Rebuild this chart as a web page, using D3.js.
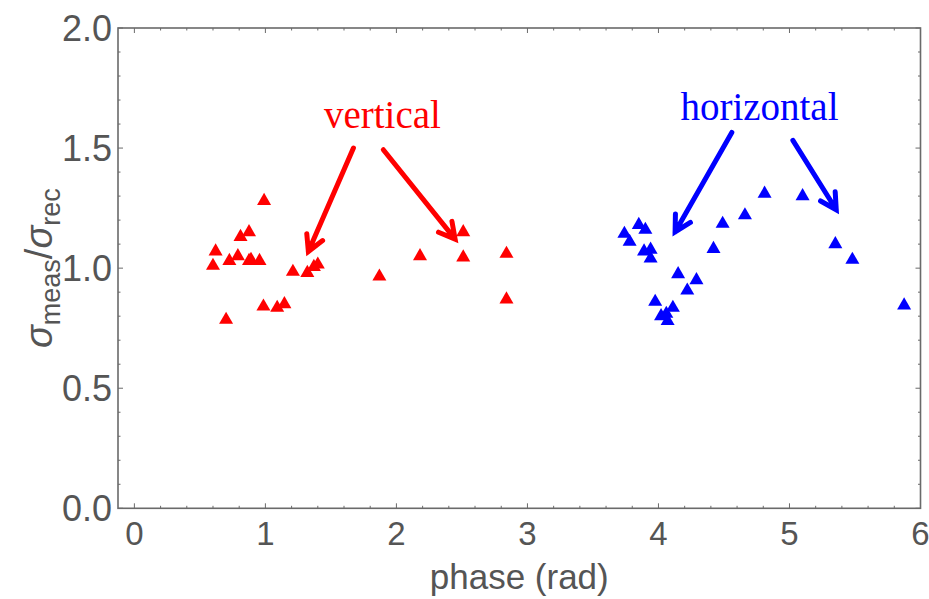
<!DOCTYPE html>
<html>
<head>
<meta charset="utf-8">
<script src="https://cdn.jsdelivr.net/npm/d3@7"></script>
<style>
  body { margin: 0; background: #fff; }
  svg { display: block; }
</style>
</head>
<body>
<svg id="chart" width="929" height="599"></svg>
<script>
// Vertical-plane points (phase, ratio)
const verticalPhase = [0.99, 0.81, 0.875, 0.62, 0.60, 0.725, 0.79, 0.875, 0.89, 0.955,
  1.21, 1.32, 1.37, 1.40, 1.87, 2.18, 2.51, 2.51, 2.84, 2.84, 0.985, 1.09, 1.145, 0.70];
const verticalRatio = [1.28, 1.13, 1.15, 1.07, 1.01, 1.03, 1.05, 1.03, 1.035, 1.03,
  0.985, 0.98, 1.005, 1.015, 0.965, 1.05, 1.15, 1.045, 1.06, 0.87, 0.84, 0.835, 0.85, 0.785];

// Horizontal-plane points (phase, ratio)
const horizontalPhase = [3.74, 3.78, 3.85, 3.90, 3.89, 3.94, 3.94, 4.81, 5.10, 4.66,
  4.49, 4.42, 5.35, 5.48, 4.15, 4.29, 4.22, 3.975, 4.11, 4.02, 4.06, 4.07, 5.875];
const horizontalRatio = [1.143, 1.11, 1.18, 1.16, 1.07, 1.077, 1.04, 1.31, 1.30, 1.22,
  1.185, 1.08, 1.10, 1.035, 0.975, 0.95, 0.907, 0.86, 0.835, 0.80, 0.81, 0.78, 0.845];

// Axis ticks
const xTicks = [0, 1, 2, 3, 4, 5, 6];
const yTicks = [0, 0.5, 1, 1.5, 2];

// Annotations: label position and arrows (in data units)
const labels = [
  { text: "vertical", x: 1.893, y: 1.584, color: "#ff0000" },
  { text: "horizontal", x: 4.771, y: 1.618, color: "#0000ff" }
];
const arrows = [
  { x1: 1.672, y1: 1.50, x2: 1.328, y2: 1.069, color: "#ff0000" },
  { x1: 1.90, y1: 1.493, x2: 2.448, y2: 1.121, color: "#ff0000" },
  { x1: 4.56, y1: 1.565, x2: 4.127, y2: 1.151, color: "#0000ff" },
  { x1: 5.026, y1: 1.532, x2: 5.357, y2: 1.243, color: "#0000ff" }
];

const svg = d3.select("#chart");
const plotLeft = 118, plotRight = 920.5, plotTop = 28, plotBottom = 508.3;
const frameColor = "#6a6a6a";
const textColor = "#555555";
const fontFamily = "'Liberation Sans', Arial, Helvetica, sans-serif";

const x = d3.scaleLinear().domain([-0.125, 6]).range([plotLeft, plotRight]);
const y = d3.scaleLinear().domain([0, 2]).range([plotBottom, plotTop]);

// Frame ticks on all four sides (inward)
const frame = svg.append("g");
const xMinor = d3.range(0, 6.001, 0.2);
const yMinor = d3.range(0, 2.001, 0.1);

function isMajor(v, step) {
  return Math.abs(v / step - Math.round(v / step)) < 1e-6;
}

xMinor.forEach(v => {
  const len = isMajor(v, 1) ? 5 : 2.5;
  frame.append("line")
    .attr("x1", x(v)).attr("x2", x(v))
    .attr("y1", plotBottom).attr("y2", plotBottom - len)
    .attr("stroke", frameColor).attr("stroke-width", 1);
  frame.append("line")
    .attr("x1", x(v)).attr("x2", x(v))
    .attr("y1", plotTop).attr("y2", plotTop + len)
    .attr("stroke", frameColor).attr("stroke-width", 1);
});
yMinor.forEach(v => {
  const len = isMajor(v, 0.5) ? 5 : 2.5;
  frame.append("line")
    .attr("x1", plotLeft).attr("x2", plotLeft + len)
    .attr("y1", y(v)).attr("y2", y(v))
    .attr("stroke", frameColor).attr("stroke-width", 1);
  frame.append("line")
    .attr("x1", plotRight).attr("x2", plotRight - len)
    .attr("y1", y(v)).attr("y2", y(v))
    .attr("stroke", frameColor).attr("stroke-width", 1);
});

frame.append("rect")
  .attr("x", plotLeft).attr("y", plotTop)
  .attr("width", plotRight - plotLeft).attr("height", plotBottom - plotTop)
  .attr("fill", "none")
  .attr("stroke", frameColor)
  .attr("stroke-width", 1.6);

// Tick labels
svg.append("g").selectAll("text")
  .data(xTicks)
  .join("text")
  .attr("x", d => x(d))
  .attr("y", 545)
  .attr("text-anchor", "middle")
  .attr("fill", textColor)
  .attr("font-size", 33)
  .style("font-family", fontFamily)
  .text(d => d);

svg.append("g").selectAll("text")
  .data(yTicks)
  .join("text")
  .attr("x", 112)
  .attr("y", d => y(d) + 13)
  .attr("text-anchor", "end")
  .attr("fill", textColor)
  .attr("font-size", 36)
  .style("font-family", fontFamily)
  .text(d => d3.format(".1f")(d));

// Axis titles
svg.append("text")
  .attr("x", (plotLeft + plotRight) / 2)
  .attr("y", 589)
  .attr("text-anchor", "middle")
  .attr("fill", textColor)
  .attr("font-size", 35)
  .style("font-family", fontFamily)
  .text("phase (rad)");

const yTitle = svg.append("text")
  .attr("transform", `translate(52,${(plotTop + plotBottom) / 2}) rotate(-90)`)
  .attr("text-anchor", "middle")
  .attr("fill", textColor)
  .attr("font-size", 38)
  .style("font-family", fontFamily);
yTitle.append("tspan").attr("font-style", "italic").text("σ");
yTitle.append("tspan").attr("font-size", 27).attr("dy", 8).text("meas");
yTitle.append("tspan").attr("dy", -8).text("/");
yTitle.append("tspan").attr("font-style", "italic").text("σ");
yTitle.append("tspan").attr("font-size", 27).attr("dy", 8).text("rec");

// Points
const triangle = d3.symbol().type(d3.symbolTriangle).size(85);

svg.append("g").selectAll("path")
  .data(d3.zip(verticalPhase, verticalRatio))
  .join("path")
  .attr("transform", d => `translate(${x(d[0])},${y(d[1])})`)
  .attr("d", triangle)
  .attr("fill", "#ff0000");

svg.append("g").selectAll("path")
  .data(d3.zip(horizontalPhase, horizontalRatio))
  .join("path")
  .attr("transform", d => `translate(${x(d[0])},${y(d[1])})`)
  .attr("d", triangle)
  .attr("fill", "#0000ff");

// Arrows with open heads
const headLen = 18, headAngle = 0.5;
arrows.forEach(a => {
  const x1 = x(a.x1), y1 = y(a.y1), x2 = x(a.x2), y2 = y(a.y2);
  const ang = Math.atan2(y2 - y1, x2 - x1);
  const p1 = [x2 - headLen * Math.cos(ang - headAngle), y2 - headLen * Math.sin(ang - headAngle)];
  const p2 = [x2 - headLen * Math.cos(ang + headAngle), y2 - headLen * Math.sin(ang + headAngle)];
  svg.append("path")
    .attr("d", `M${x1},${y1}L${x2},${y2}M${p1[0]},${p1[1]}L${x2},${y2}L${p2[0]},${p2[1]}`)
    .attr("fill", "none")
    .attr("stroke", a.color)
    .attr("stroke-width", 5)
    .attr("stroke-linecap", "round")
    .attr("stroke-linejoin", "miter");
});

// Annotation labels
svg.append("g").selectAll("text")
  .data(labels)
  .join("text")
  .attr("x", d => x(d.x))
  .attr("y", d => y(d.y))
  .attr("text-anchor", "middle")
  .attr("fill", d => d.color)
  .attr("font-size", 39)
  .style("font-family", "'Liberation Serif', 'DejaVu Serif', serif")
  .text(d => d.text);
</script>
</body>
</html>
